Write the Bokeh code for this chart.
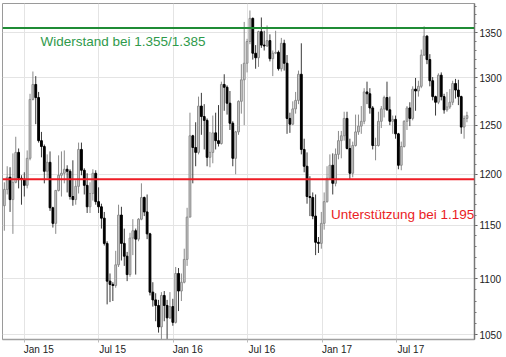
import numpy as np
import pandas as pd
from bokeh.plotting import figure
from bokeh.models import (ColumnDataSource, Range1d, FixedTicker, Span, Label,
                          CustomJSTickFormatter, PrintfTickFormatter)
from bokeh.embed import file_html
from bokeh.resources import INLINE

# ---------------- data (weekly gold candles, USD) ----------------
first_week = "2014-11-10"
opens = [1169, 1185, 1197, 1175, 1192, 1222, 1196, 1195,
         1189, 1216, 1277, 1293, 1279, 1234, 1228, 1203, 1212, 1167, 1152, 1184, 1199, 1201, 1205, 1203, 1178, 1175,
         1188, 1225, 1204, 1189, 1168, 1181, 1201, 1173, 1168, 1157, 1133, 1098, 1095, 1094, 1113, 1160, 1133, 1121,
         1104, 1138, 1145, 1137, 1156, 1177, 1163, 1142, 1088, 1081, 1076, 1057, 1085, 1076, 1065, 1075,
         1061, 1105, 1089, 1097, 1118, 1158, 1239, 1227, 1222, 1270, 1259, 1255, 1217, 1222, 1242, 1234, 1231, 1293,
         1290, 1273, 1252, 1216, 1243, 1275, 1298, 1316, 1340, 1366, 1327, 1322, 1351, 1336, 1335, 1341, 1321, 1327,
         1328, 1310, 1338, 1316, 1257, 1251, 1267, 1276, 1304, 1225, 1208, 1178, 1177, 1159, 1134, 1133,
         1152, 1173, 1196, 1209, 1191, 1220, 1234, 1239, 1257, 1226, 1201, 1229, 1243, 1249, 1254, 1285, 1283, 1268,
         1229, 1229, 1254, 1267, 1279, 1266, 1254, 1256, 1241, 1209, 1228, 1254, 1268, 1257, 1288, 1286, 1291, 1325,
         1346, 1320, 1297, 1280, 1274, 1303, 1280, 1266, 1269, 1274, 1294, 1287, 1280, 1248, 1257]
highs = [1192, 1208, 1207, 1221, 1238, 1226, 1199, 1202,
         1224, 1283, 1307, 1302, 1285, 1243, 1230, 1220, 1223, 1168, 1184, 1219, 1223, 1224, 1209, 1205, 1214, 1194,
         1232, 1232, 1206, 1201, 1192, 1205, 1204, 1187, 1171, 1163, 1135, 1105, 1097, 1126, 1170, 1168, 1147, 1125,
         1143, 1156, 1147, 1157, 1191, 1178, 1180, 1143, 1097, 1087, 1081, 1088, 1089, 1081, 1088, 1082,
         1111, 1110, 1105, 1128, 1167, 1263, 1240, 1253, 1280, 1284, 1272, 1257, 1243, 1260, 1263, 1271, 1296, 1304,
         1292, 1286, 1254, 1244, 1276, 1315, 1362, 1343, 1375, 1367, 1336, 1352, 1367, 1352, 1358, 1348, 1330, 1352,
         1330, 1344, 1342, 1325, 1263, 1275, 1285, 1308, 1338, 1236, 1222, 1198, 1182, 1180, 1139, 1163,
         1182, 1208, 1220, 1221, 1226, 1244, 1244, 1264, 1264, 1236, 1233, 1261, 1261, 1270, 1289, 1296, 1289, 1270,
         1237, 1264, 1270, 1281, 1296, 1280, 1260, 1260, 1242, 1233, 1255, 1270, 1274, 1291, 1300, 1297, 1331, 1357,
         1347, 1326, 1301, 1281, 1305, 1306, 1283, 1285, 1288, 1297, 1299, 1298, 1281, 1260, 1264]
lows = [1145, 1180, 1163, 1142, 1191, 1186, 1170, 1178,
        1186, 1214, 1276, 1251, 1232, 1217, 1191, 1196, 1164, 1148, 1142, 1183, 1178, 1191, 1182, 1175, 1169, 1170,
        1181, 1199, 1180, 1162, 1162, 1174, 1170, 1162, 1147, 1131, 1077, 1079, 1080, 1092, 1111, 1117, 1112, 1098,
        1102, 1122, 1104, 1135, 1155, 1159, 1137, 1085, 1075, 1062, 1052, 1046, 1062, 1046, 1064, 1058,
        1060, 1071, 1080, 1096, 1112, 1158, 1191, 1208, 1220, 1240, 1225, 1208, 1207, 1211, 1225, 1228, 1230, 1265,
        1261, 1245, 1208, 1200, 1240, 1262, 1250, 1306, 1337, 1320, 1310, 1312, 1333, 1330, 1334, 1318, 1302, 1326,
        1308, 1307, 1308, 1241, 1242, 1250, 1262, 1272, 1220, 1202, 1171, 1159, 1156, 1122, 1124, 1128,
        1146, 1172, 1195, 1180, 1188, 1215, 1216, 1234, 1225, 1195, 1197, 1228, 1240, 1241, 1251, 1272, 1262, 1225,
        1214, 1228, 1247, 1258, 1265, 1250, 1241, 1236, 1205, 1204, 1227, 1245, 1249, 1255, 1265, 1280, 1289, 1324,
        1315, 1291, 1276, 1260, 1272, 1276, 1262, 1264, 1267, 1271, 1278, 1271, 1241, 1236, 1253]
closes = [1185, 1197, 1175, 1192, 1222, 1196, 1195, 1189,
          1216, 1277, 1293, 1279, 1234, 1228, 1203, 1212, 1167, 1152, 1184, 1199, 1201, 1205, 1203, 1178, 1175, 1188,
          1225, 1204, 1189, 1168, 1181, 1201, 1173, 1168, 1157, 1133, 1098, 1095, 1094, 1113, 1160, 1133, 1121, 1104,
          1138, 1145, 1137, 1156, 1177, 1163, 1142, 1088, 1081, 1076, 1057, 1085, 1076, 1065, 1075, 1061,
          1105, 1089, 1097, 1118, 1158, 1239, 1227, 1222, 1270, 1259, 1255, 1217, 1222, 1242, 1234, 1231, 1293, 1290,
          1273, 1252, 1216, 1243, 1275, 1298, 1316, 1340, 1366, 1327, 1322, 1351, 1336, 1335, 1341, 1321, 1327, 1328,
          1310, 1338, 1316, 1257, 1251, 1267, 1276, 1304, 1225, 1208, 1178, 1177, 1159, 1134, 1133, 1152,
          1173, 1196, 1209, 1191, 1220, 1234, 1239, 1257, 1226, 1201, 1229, 1243, 1249, 1254, 1285, 1283, 1268, 1229,
          1229, 1254, 1267, 1279, 1266, 1254, 1256, 1241, 1209, 1228, 1254, 1268, 1257, 1288, 1286, 1291, 1325, 1346,
          1320, 1297, 1280, 1274, 1303, 1280, 1266, 1269, 1274, 1294, 1287, 1280, 1248, 1257, 1260]

grid_dates = ["2015-01-01", "2015-07-01", "2016-01-01", "2016-07-01", "2017-01-01", "2017-07-01"]
tick_labels = ["Jan 15", "Jul 15", "Jan 16", "Jul 16", "Jan 17", "Jul 17"]
y_ticks = [1050, 1100, 1150, 1200, 1250, 1300, 1350]
resistance = 1355
support = 1195
resistance_text = "Widerstand bei 1.355/1.385"
support_text = "Unterstützung bei 1.195"

DAY = 86400000.0


def ms(s):
    return pd.Timestamp(s).value / 1e6


n = len(closes)
weeks = pd.date_range(first_week, periods=n, freq="7D") + pd.Timedelta(hours=60)
x = [w.value / 1e6 for w in weeks]
o = np.array(opens, dtype=float)
c = np.array(closes, dtype=float)
up = c >= o
src = ColumnDataSource(dict(
    x=x, h=highs, l=lows,
    top=np.maximum(o, c), bottom=np.minimum(o, c),
    fill=["#d2d2d2" if u else "#000000" for u in up],
    line=["#8a8a8a" if u else "#000000" for u in up],
    wick=["#8a8a8a" if u else "#3a3a3a" for u in up],
))

p = figure(frame_width=472, frame_height=336,
           x_range=Range1d(ms("2014-11-08"), ms("2018-01-08")),
           y_range=Range1d(1046, 1383),
           y_axis_type="log", y_axis_location="right",
           output_backend="svg", toolbar_location=None,
           min_border_left=2, min_border_top=3, min_border_right=0, min_border_bottom=0)
p.background_fill_color = "white"
p.border_fill_color = "white"
p.outline_line_color = "#9a9a9a"
p.outline_line_width = 1

grid_ticks = [ms(d) for d in grid_dates]
label_ticks = [g + 35 * DAY for g in grid_ticks]

# x axis
xa = p.xaxis[0]
xa.ticker = FixedTicker(ticks=label_ticks, minor_ticks=grid_ticks)
xa.formatter = CustomJSTickFormatter(args=dict(tpos=label_ticks, tlab=tick_labels), code="""
    for (let i = 0; i < tpos.length; i++) { if (Math.abs(tpos[i] - tick) < 1000) return tlab[i]; }
    return "";
""")
xa.major_tick_line_color = None
xa.major_tick_out = 0
xa.major_tick_in = 0
xa.minor_tick_in = 0
xa.minor_tick_out = 3
xa.minor_tick_line_color = "#bbbbbb"
xa.axis_line_color = "#a0a0a0"
xa.axis_line_width = 1.5
xa.major_label_standoff = 1
xa.major_label_text_font = "Liberation Sans"
xa.major_label_text_font_size = "10px"
xa.major_label_text_color = "#222222"

# y axis
ya = p.yaxis[0]
ya.ticker = FixedTicker(ticks=y_ticks, minor_ticks=list(range(1050, 1390, 10)))
ya.formatter = PrintfTickFormatter(format="%d")
ya.axis_line_color = "#777777"
ya.axis_line_width = 1.5
ya.major_tick_in = 0
ya.major_tick_out = 3
ya.major_tick_line_color = "#555555"
ya.minor_tick_in = 0
ya.minor_tick_out = 2
ya.minor_tick_line_color = "#777777"
ya.major_label_standoff = 2
ya.major_label_text_font = "Liberation Sans"
ya.major_label_text_font_size = "10px"
ya.major_label_text_color = "#222222"

p.xgrid.ticker = FixedTicker(ticks=grid_ticks)
p.ygrid.ticker = FixedTicker(ticks=y_ticks)
p.xgrid.grid_line_color = "#e4e4e4"
p.ygrid.grid_line_color = "#e4e4e4"

# candles
p.segment(x0="x", y0="l", x1="x", y1="h", line_color="wick", line_width=1, source=src)
p.vbar(x="x", width=4.4 * DAY, top="top", bottom="bottom",
       fill_color="fill", line_color="line", line_width=1, source=src)

p.add_layout(Span(location=resistance, dimension="width", line_color="#1f8c35", line_width=2))
p.add_layout(Span(location=support, dimension="width", line_color="#ee1c25", line_width=2))

p.add_layout(Label(x=ms("2015-02-09"), y=1340, text=resistance_text, text_color="#2f9a4b",
                   text_font="Liberation Sans", text_font_size="13.5px", text_baseline="middle"))
p.add_layout(Label(x=ms("2017-01-21"), y=1161, text=support_text, text_color="#ea1c24",
                   text_font="Liberation Sans", text_font_size="13.5px", text_baseline="middle"))

open("out.html", "w").write(file_html(p, INLINE))
